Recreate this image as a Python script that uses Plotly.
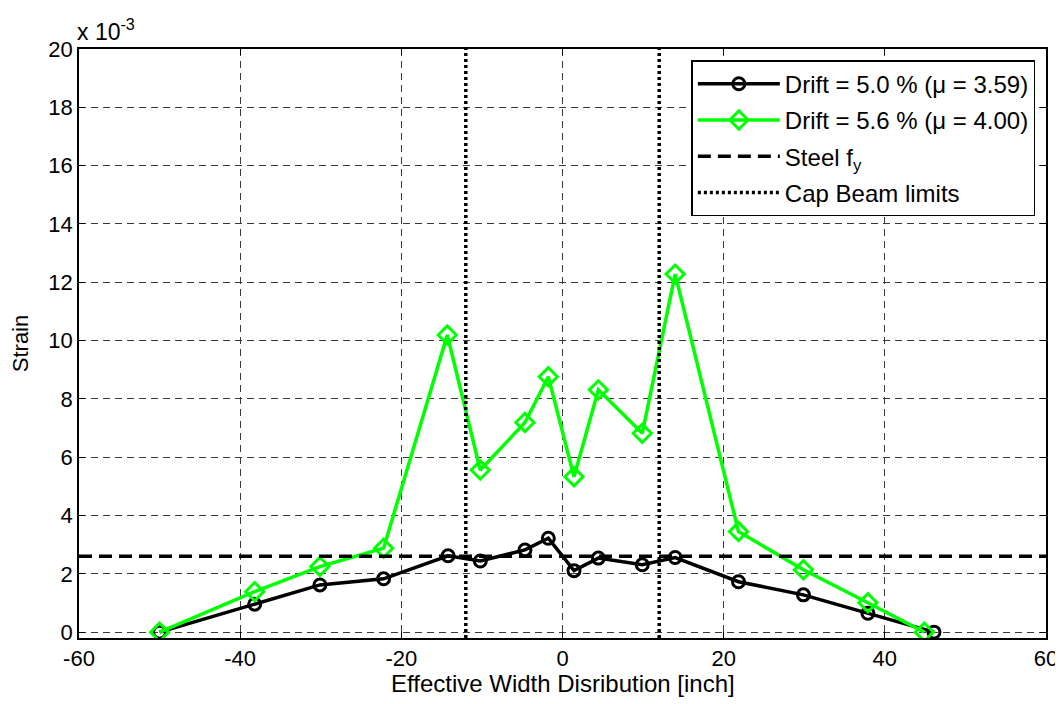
import plotly.graph_objects as go

# Effective width positions [inch]
x_drift50 = [-50, -38.2, -30.1, -22.2, -14.2, -10.2, -4.66, -1.76, 1.43, 4.45, 9.9, 13.98, 21.84, 29.9, 37.9, 46.1]
x_drift56 = [-50, -38.2, -30.1, -22.2, -14.3, -10.2, -4.66, -1.76, 1.43, 4.45, 9.9, 13.98, 21.84, 29.9, 37.9, 44.9]
# Strain values (x 10^-3)
strain_drift50 = [0, 0.96, 1.62, 1.83, 2.62, 2.44, 2.82, 3.22, 2.11, 2.54, 2.31, 2.56, 1.73, 1.28, 0.65, 0]
strain_drift56 = [0, 1.39, 2.25, 2.88, 10.19, 5.56, 7.19, 8.76, 5.33, 8.31, 6.82, 12.28, 3.45, 2.14, 1.01, 0]
steel_fy = 2.6
fy_x = [-60, 60]
cap_beam_x = [-12, 12]
cap_beam_y = [-0.2, 20]

x_ticks = [-60, -40, -20, 0, 20, 40, 60]
y_ticks = [0, 2, 4, 6, 8, 10, 12, 14, 16, 18, 20]

FONT = "Liberation Sans, Arial, sans-serif"

fig = go.Figure()
fig.add_trace(go.Scatter(
    x=x_drift50, y=strain_drift50, mode="lines+markers",
    name="Drift = 5.0 % (\u03bc = 3.59)", legendgroup="a",
    line=dict(color="black", width=3.5),
    marker=dict(symbol="circle-open", size=12, color="black", line=dict(width=3)),
))
fig.add_trace(go.Scatter(
    x=x_drift56, y=strain_drift56, mode="lines+markers",
    name="Drift = 5.6 % (\u03bc = 4.00)", legendgroup="b",
    line=dict(color="#00FF00", width=3.5),
    marker=dict(symbol="diamond-open", size=14, color="#00FF00", line=dict(width=3)),
))
fig.add_trace(go.Scatter(
    x=fy_x, y=[steel_fy, steel_fy], mode="lines",
    name="Steel f<sub>y</sub>", legendgroup="c",
    line=dict(color="black", width=3.5, dash="13px,7px"),
))
fig.add_trace(go.Scatter(
    x=[cap_beam_x[0], cap_beam_x[0], None, cap_beam_x[1], cap_beam_x[1]],
    y=[cap_beam_y[0], cap_beam_y[1], None, cap_beam_y[0], cap_beam_y[1]],
    mode="lines", name="Cap Beam limits", legendgroup="d",
    line=dict(color="black", width=3.5, dash="3px,3px"),
))

axis_common = dict(
    showline=True, linecolor="black", linewidth=1.5, mirror="ticks",
    ticks="inside", ticklen=6, tickcolor="black",
    showgrid=True, gridcolor="#3a3a3a", gridwidth=1, griddash="7px,5px",
    zeroline=False, automargin=False,
    tickfont=dict(family=FONT, size=22, color="black"),
)

fig.update_xaxes(
    range=[-60, 60], tickvals=x_ticks, ticktext=[str(v) for v in x_ticks],
    **axis_common,
)
fig.update_yaxes(
    range=[-0.2, 20], tickvals=y_ticks, ticktext=[str(v) for v in y_ticks],
    title=dict(text="Strain", font=dict(family=FONT, size=22, color="black"), standoff=16),
    **axis_common,
)

fig.add_annotation(
    x=0.5, y=0, xref="paper", yref="paper", xanchor="center", yanchor="top",
    text="Effective Width Disribution [inch]", showarrow=False, yshift=-30,
    font=dict(family=FONT, size=24, color="black"),
)
fig.add_annotation(
    x=0, y=1, xref="paper", yref="paper", xanchor="left", yanchor="bottom",
    text="x 10<sup>-3</sup>", showarrow=False, yshift=2, xshift=-4,
    font=dict(family=FONT, size=23, color="black"),
)

fig.update_layout(
    width=1055, height=696,
    paper_bgcolor="white", plot_bgcolor="white",
    margin=dict(l=71, r=17, t=41, b=66),
    font=dict(family=FONT, size=22, color="black"),
    showlegend=True,
    legend=dict(
        x=0.989, y=0.981, xanchor="right", yanchor="top",
        bgcolor="white", bordercolor="black", borderwidth=1.5,
        font=dict(family=FONT, size=24, color="black"),
        itemwidth=82, tracegroupgap=2,
    ),
)

fig.write_html("out.html")
